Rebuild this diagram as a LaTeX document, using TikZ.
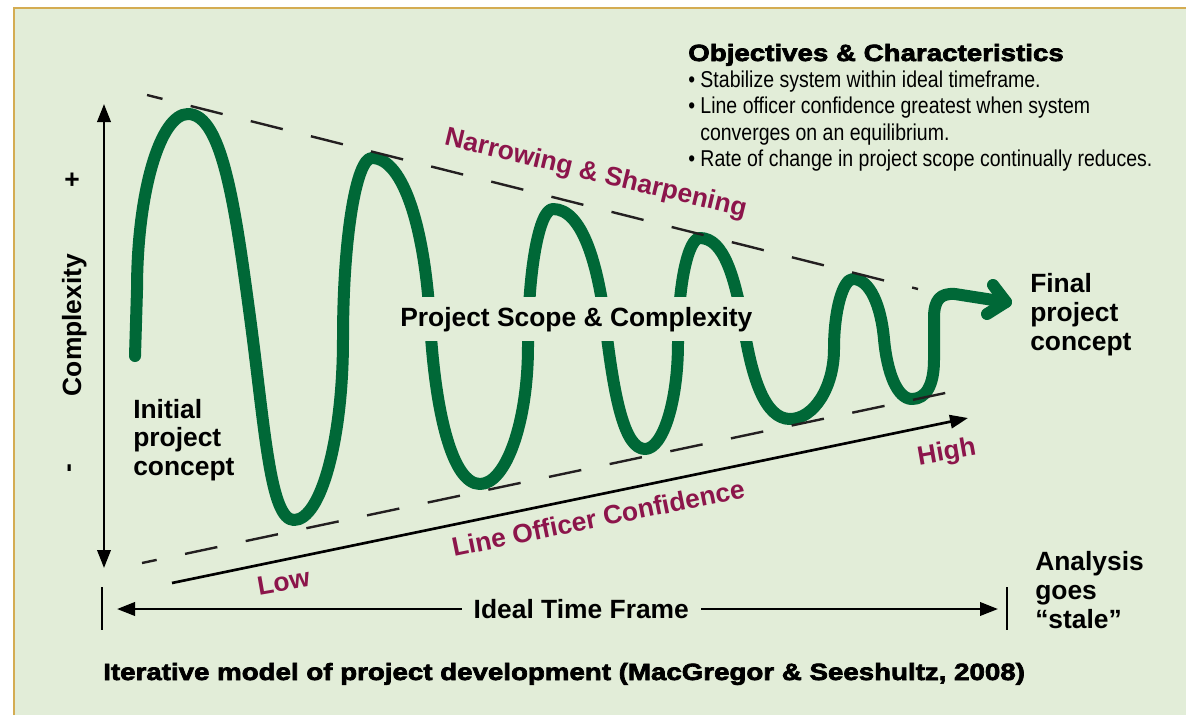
\documentclass[tikz,border=0pt]{standalone}
\usepackage{fontspec}
\setmainfont{Liberation Sans}
\newfontfamily\heavyfont[FakeBold=3,FakeStretch=1.18]{Liberation Sans Bold}
\newfontfamily\condfont[FakeStretch=0.85]{Liberation Sans}
\usetikzlibrary{arrows.meta}
\definecolor{bgc}{RGB}{226,237,216}
\definecolor{goldc}{RGB}{212,172,82}
\definecolor{greenc}{RGB}{0,104,55}
\definecolor{magc}{RGB}{140,21,75}
\definecolor{dashc}{RGB}{35,31,32}
\begin{document}
\begin{tikzpicture}[x=0.75pt,y=-0.75pt,
  lbl/.style={font=\bfseries\fontsize{19.8}{22}\selectfont, inner sep=0pt, anchor=base west},
  mag/.style={font=\bfseries\fontsize{19.8}{22}\selectfont, text=magc, inner sep=0pt, anchor=base},
  bul/.style={font=\condfont\fontsize{17.2}{20}\selectfont, inner sep=0pt, anchor=base west},
  heavy/.style={font=\heavyfont\fontsize{17.6}{20}\selectfont, inner sep=0pt, anchor=base west},
  axis/.style={line width=2pt, draw=black},
  tri/.tip={Triangle[length=13.5pt,width=10pt]},
  dashln/.style={line width=1.8pt, draw=dashc, dash pattern=on 24.75pt off 21.75pt},
  wave/.style={line width=9pt, draw=greenc, line cap=round, line join=round}
]
\useasboundingbox (0,0) rectangle (1186,715);
\fill[white] (0,0) rectangle (1186,715);
\fill[bgc] (13,7) rectangle (1186,715);
\draw[line width=1.5pt, draw=goldc] (14.3,715) -- (14.3,7.8) -- (1186,7.8);

% wave
\draw[wave] (135,356) -- (137,290) .. controls (137,193) and (160,114) .. (188,114)
 .. controls (222,114) and (235,205) .. (250,317)
 .. controls (265,429) and (270,520) .. (294,520)
 .. controls (321,520) and (343,439) .. (343,339)
 .. controls (343,239) and (356,158) .. (372,158)
 .. controls (404,158) and (425,231) .. (430,321)
 .. controls (435,411) and (452,484) .. (480,484)
 .. controls (506,484) and (528,422) .. (528,346)
 .. controls (528,271) and (539,209) .. (553,209)
 .. controls (582,209) and (598,263) .. (606,329)
 .. controls (614,395) and (624,449) .. (645,449)
 .. controls (663,449) and (678,401) .. (678,343)
 .. controls (678,285) and (688,238) .. (700,238)
 .. controls (724,238) and (735,278) .. (744,328)
 .. controls (752,378) and (765,419) .. (790,419)
 .. controls (814,419) and (834,387) .. (834,349)
 .. controls (834,310) and (843,279) .. (853,279)
 .. controls (870,279) and (881,306) .. (884,339)
 .. controls (887,372) and (897,399) .. (912,399)
 .. controls (926,399) and (934,385) .. (934,360)
 -- (934,318) .. controls (934,300) and (940,293) .. (955,294)
 -- (1006,302);
\draw[wave] (993,285) -- (1006,302) -- (987,314);

% dashed envelope
\coordinate (duA) at (147,95);
\coordinate (duB) at (918,289);
\coordinate (dlA) at (142,563);
\coordinate (dlB) at (950,392);
\draw[dashln, dash phase=12.75pt] (duA) -- (duB);
\draw[dashln, dash phase=13.5pt] (dlA) -- (dlB);

% axes
\coordinate (vtop) at (104,104);
\coordinate (vbot) at (104,568);
\draw[axis, tri-tri] (vbot) -- (vtop);
\coordinate (cfL) at (172,583);
\coordinate (cfR) at (968,418);
\draw[axis, -tri] (cfL) -- (cfR);

% time frame
\coordinate (barLt) at (102,587);
\coordinate (barLb) at (102,630);
\coordinate (barRt) at (1007,587);
\coordinate (barRb) at (1007,630);
\draw[axis] (barLt) -- (barLb);
\draw[axis] (barRt) -- (barRb);
\coordinate (tfL) at (117,609);
\coordinate (tfR) at (998,609);
\draw[axis, tri-tri] (tfL) -- (tfR)
  node[pos=0.527, fill=bgc, font=\bfseries\fontsize{19.8}{22}\selectfont, inner xsep=9pt, inner ysep=2pt] (tft) {Ideal Time Frame};

% texts
\node[heavy] (title) at (688,61) {Objectives \& Characteristics};
\node[bul] (b1) at (688,87) {\textbullet\ Stabilize system within ideal timeframe.};
\node[bul] (b2) at (688,113.5) {\textbullet\ Line officer confidence greatest when system};
\node[bul] (b3) at (700,140) {converges on an equilibrium.};
\node[bul] (b4) at (688,166.5) {\textbullet\ Rate of change in project scope continually reduces.};

\node[lbl] (ini1) at (133,418) {Initial};
\node[lbl] (ini2) at (133,446.5) {project};
\node[lbl] (ini3) at (133,475) {concept};
\node[lbl] (fin1) at (1030,292) {Final};
\node[lbl] (fin2) at (1030,321) {project};
\node[lbl] (fin3) at (1030,350) {concept};
\node[lbl] (ana1) at (1035,570) {Analysis};
\node[lbl] (ana2) at (1035,599) {goes};
\node[lbl] (ana3) at (1035,628) {“stale”};
\node[lbl, fill=bgc, inner xsep=3pt, inner ysep=7.5pt] (psc) at (396,326) {Project Scope \& Complexity};
\node[lbl, rotate=90, anchor=base] (cx) at (81,325) {Complexity};
\node[lbl, anchor=center] (plus) at (72,181) {+};
\node[lbl, rotate=90, anchor=center] (minus) at (72,468) {-};

\node[mag, rotate=-13.5] (nar) at (594,181) {Narrowing \& Sharpening};
\node[mag, rotate=11.5] (loc) at (600,527) {Line Officer Confidence};
\node[mag, rotate=10] (low) at (285,591) {Low};
\node[mag, rotate=10] (high) at (948,460) {High};

\node[heavy] (cap) at (103,680) {Iterative model of project development (MacGregor \& Seeshultz, 2008)};
\end{tikzpicture}
\end{document}
